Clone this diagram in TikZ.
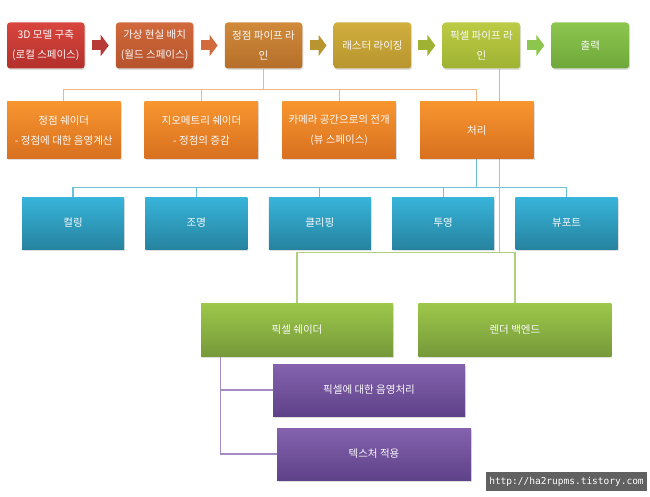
\documentclass[tikz,border=0pt]{standalone}
\usepackage{fontspec}
\setmainfont{Noto Sans CJK KR}
\newfontfamily\urlfont{DejaVu Sans Mono}
\usetikzlibrary{arrows.meta,positioning,shadows,backgrounds,calc}

\definecolor{redT}{HTML}{D8453E}\definecolor{redB}{HTML}{B3302B}
\definecolor{brnT}{HTML}{D16A3C}\definecolor{brnB}{HTML}{B5532C}
\definecolor{ochT}{HTML}{D08A3A}\definecolor{ochB}{HTML}{B66F2A}
\definecolor{gldT}{HTML}{D1AE3E}\definecolor{gldB}{HTML}{B8952E}
\definecolor{limT}{HTML}{BCCB45}\definecolor{limB}{HTML}{9FB232}
\definecolor{grnT}{HTML}{8CC64E}\definecolor{grnB}{HTML}{6FA83A}
\definecolor{ornT}{HTML}{F7952F}\definecolor{ornB}{HTML}{D8701F}
\definecolor{bluT}{HTML}{38B4DA}\definecolor{bluB}{HTML}{26839F}
\definecolor{psgT}{HTML}{9DC84A}\definecolor{psgB}{HTML}{76993A}
\definecolor{purT}{HTML}{8462AE}\definecolor{purB}{HTML}{5E4288}
\definecolor{oLn}{HTML}{F5B483}\definecolor{bLn}{HTML}{6EC0D8}
\definecolor{gLn}{HTML}{AED07C}\definecolor{pLn}{HTML}{A48BC6}

\begin{document}
\begin{tikzpicture}[
  x=1pt, y=-1pt,
  base/.style={align=center, text=white!96!gray, inner sep=2pt,
    font=\fontsize{10.5}{20}\selectfont,
    drop shadow={opacity=0.25, shadow xshift=1pt, shadow yshift=-1.5pt}},
  topbox/.style={base, rounded corners=3pt, minimum width=77.5pt, minimum height=46pt},
  obox/.style={base, minimum width=113.5pt, minimum height=57pt, top color=ornT, bottom color=ornB},
  cbox/.style={base, minimum width=102pt, minimum height=52pt, top color=bluT, bottom color=bluB},
  gbox/.style={base, minimum height=53pt, top color=psgT, bottom color=psgB},
  pbox/.style={base, minimum height=52pt, top color=purT, bottom color=purB},
  arr/.style={line width=10pt, shorten <=7pt, shorten >=7pt, -{Triangle[length=8pt,width=21pt]}},
  oline/.style={oLn, line width=1.2pt},
  bline/.style={bLn, line width=1.2pt},
  gline/.style={gLn, line width=1.2pt},
  pline/.style={pLn, line width=1.2pt}
]
\useasboundingbox (0,0) rectangle (650,497);

% top row
\node[topbox, top color=redT, bottom color=redB] (b1) at (45.75,45.5) {3D 모델 구축\\(로컬 스페이스)};
\node[topbox, top color=brnT, bottom color=brnB, right=31pt of b1] (b2) {가상 현실 배치\\(월드 스페이스)};
\node[topbox, top color=ochT, bottom color=ochB, right=31pt of b2] (b3) {정점 파이프 라\\인};
\node[topbox, top color=gldT, bottom color=gldB, right=31pt of b3] (b4) {래스터 라이징};
\node[topbox, top color=limT, bottom color=limB, right=31pt of b4] (b5) {픽셀 파이프 라\\인};
\node[topbox, top color=grnT, bottom color=grnB, right=31pt of b5] (b6) {출력};

\draw[arr, color=redB!95!white] (b1) -- (b2);
\draw[arr, color=brnT] (b2) -- (b3);
\draw[arr, color=gldB] (b3) -- (b4);
\draw[arr, color=limB] (b4) -- (b5);
\draw[arr, color=grnT] (b5) -- (b6);

% vertex pipeline
\node[obox] (o1) at (63.75,130.5) {정점 쉐이더\\- 정점에 대한 음영계산};
\node[obox, right=23.8pt of o1] (o2) {지오메트리 쉐이더\\- 정점의 증감};
\node[obox, right=23.8pt of o2] (o3) {카메라 공간으로의 전개\\(뷰 스페이스)};
\node[obox, right=23.8pt of o3] (o4) {처리};

\node[cbox] (c1) at (73,223) {컬링};
\node[cbox, right=21pt of c1] (c2) {조명};
\node[cbox, right=21pt of c2] (c3) {클리핑};
\node[cbox, right=21pt of c3] (c4) {투영};
\node[cbox, right=21pt of c4] (c5) {뷰포트};

% pixel pipeline
\node[gbox, minimum width=192pt] (ps) at (297,329.5) {픽셀 쉐이더};
\node[gbox, minimum width=193pt, right=25pt of ps] (rb) {렌더 백엔드};

\node[pbox, minimum width=192pt] (p1) at (369,390) {픽셀에 대한 음영처리};
\node[pbox, minimum width=194pt] (p2) at (374,454) {텍스처 적용};

\node[fill=black!62, text=white, inner sep=0pt, minimum width=161pt, minimum height=19pt,
  font=\urlfont\fontsize{9.5}{11}\selectfont] (url) at (566.5,481.5) {http://ha2rupms.tistory.com};

\coordinate (oj) at ($(b3.south)+(0,20.5)$);
\coordinate (bj) at ($(o4.south)+(0,28)$);
\coordinate (gj) at ($(b5.south)+(18,184)$);

\begin{scope}[on background layer]
\draw[oline] (b3.south) -- (oj);
\draw[oline] (o1.north) |- (oj) -| (o4.north);
\draw[oline] (o2.north) -- (o2.north |- oj);
\draw[oline] (o3.north) -- (o3.north |- oj);

\draw[bline] (o4.south) -- (bj);
\draw[bline] (c1.north) |- (bj) -| (c5.north);
\foreach \n in {c2,c3,c4} \draw[bline] (\n.north) -- (\n.north |- bj);

\draw[gline] ([xshift=18pt]b5.south) -- (gj);
\draw[gline] (ps.north) |- (gj) -| (rb.north);

\draw[pline] ([xshift=20pt]ps.south west) |- (p1.west);
\draw[pline] ([xshift=20pt]ps.south west) |- (p2.west);
\end{scope}
\end{tikzpicture}
\end{document}
